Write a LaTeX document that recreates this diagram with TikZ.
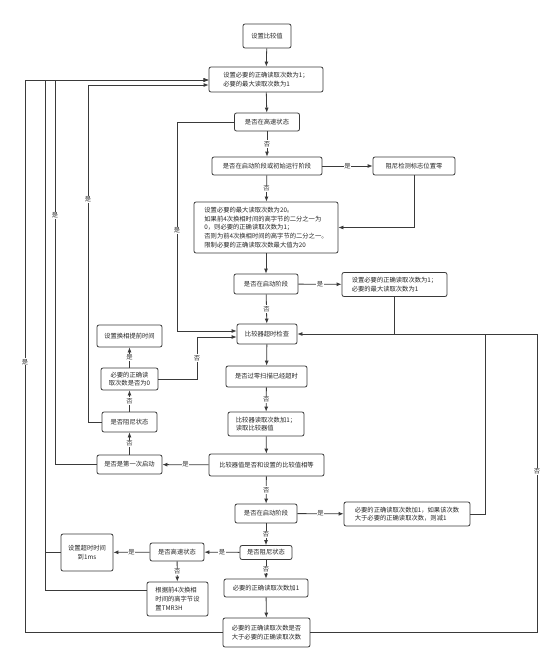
\documentclass[tikz,border=0pt]{standalone}
\usepackage{fontspec}
\newfontfamily\cjk{Noto Sans CJK SC}
\usetikzlibrary{arrows.meta}
\definecolor{ln}{HTML}{3A3A3A}
\tikzset{
  box/.style={draw=ln, line width=0.8pt, rounded corners=2pt, fill=white, align=center,
    inner sep=1pt, font=\cjk\fontsize{6.3}{8.6}\selectfont, text=black!85},
  lbl/.style={fill=white, inner sep=0.8pt, font=\cjk\fontsize{6.3}{7}\selectfont, text=black!80},
  arr/.style={draw=ln, line width=0.8pt, -{Latex[length=5pt,width=4pt]}},
  con/.style={draw=ln, line width=0.8pt}
}
\begin{document}
\begin{tikzpicture}[x=1pt,y=-1pt]
\useasboundingbox (0,0) rectangle (553,664);
% main spine
\node[box, minimum width=48pt, minimum height=24pt] (b1) at (267,36) {设置比较值};
\node[box, minimum width=114pt, minimum height=25pt, align=left] (b2) at (266,79.5) {设置必要的正确读取次数为1；\\必要的最大读取次数为1};
\node[box, minimum width=65pt, minimum height=18pt] (b3) at (267,122) {是否在高速状态};
\node[box, minimum width=110pt, minimum height=18pt] (b4) at (267,166) {是否在启动阶段或初始运行阶段};
\node[box, minimum width=82pt, minimum height=18pt] (b5) at (414,166) {阻尼检测标志位置零};
\node[box, minimum width=144pt, minimum height=51pt, align=left] (b6) at (266,227.5) {设置必要的最大读取次数为20。\\如果前4次换相时间的高字节的二分之一为\\0，则必要的正确读取次数为1；\\否则为前4次换相时间的高字节的二分之一。\\限制必要的正确读取次数最大值为20};
\node[box, minimum width=64pt, minimum height=20pt] (b7) at (266,284) {是否在启动阶段};
\node[box, minimum width=105pt, minimum height=24pt, align=left] (b8) at (394.5,284.5) {设置必要的正确读取次数为1；\\必要的最大读取次数为1};
\node[box, minimum width=60pt, minimum height=20pt] (b9) at (267,334) {比较器超时检查};
\node[box, minimum width=81pt, minimum height=21pt] (b10) at (266.5,376.5) {是否过零扫描已经超时};
\node[box, minimum width=76pt, minimum height=24pt, align=left] (b11) at (266,424) {比较器读取次数加1；\\读取比较器值};
\node[box, minimum width=115pt, minimum height=22pt] (b12) at (266.5,465) {比较器值是否和设置的比较值相等};
% left column
\node[box, minimum width=65pt, minimum height=19pt] (b13) at (129.5,464.5) {是否是第一次启动};
\node[box, minimum width=55pt, minimum height=20pt] (b14) at (129.5,422) {是否阻尼状态};
\node[box, minimum width=57pt, minimum height=22pt] (b15) at (129.5,379) {必要的正确读\\取次数是否为0};
\node[box, minimum width=65pt, minimum height=22pt] (b16) at (129.5,336) {设置换相提前时间};
% lower part
\node[box, minimum width=62pt, minimum height=19pt] (b17) at (266,513.5) {是否在启动阶段};
\node[box, minimum width=126pt, minimum height=24pt, align=left] (b18) at (407,514) {必要的正确读取次数加1，如果该次数\\大于必要的正确读取次数，则减1};
\node[box, minimum width=52pt, minimum height=14pt] (b19) at (266,552.5) {是否阻尼状态};
\node[box, minimum width=84pt, minimum height=18pt] (b20) at (266,588) {必要的正确读取次数加1};
\node[box, minimum width=87pt, minimum height=29pt, align=left] (b21) at (266.5,632.5) {必要的正确读取次数是否\\大于必要的正确读取次数};
\node[box, minimum width=54pt, minimum height=18pt] (b22) at (177,552) {是否高速状态};
\node[box, minimum width=52pt, minimum height=37pt] (b23) at (87,552.5) {设置超时时间\\到1ms};
\node[box, minimum width=61pt, minimum height=34pt, align=left] (b24) at (177.5,599) {根据前4次换相\\时间的高字节设\\置TMR3H};
% junction coordinates
\coordinate (c25) at (25,80);
\coordinate (c45) at (45,80);
\coordinate (c55) at (55,80);
\coordinate (c88) at (88,85);
\coordinate (lj1) at (177,331);
\coordinate (lj2) at (197,337);
\coordinate (rj) at (537,334);
\coordinate (j18) at (485,334);
% spine arrows
\draw[arr] (b1) -- (b2);
\draw[arr] (b2) -- (b3);
\draw[arr] (b3) -- node[lbl]{否} (b4);
\draw[arr] (b4) -- node[lbl]{是} (b5);
\draw[arr] (b4) -- node[lbl]{否} (b6);
\draw[arr] (b5.south) |- (b6.east);
\draw[arr] (b6) -- (b7);
\draw[arr] (b7) -- node[lbl]{是} (b8);
\draw[arr] (b7) -- node[lbl]{否} (b9);
\draw[arr] (b9) -- (b10);
\draw[arr] (b10) -- node[lbl]{否} (b11);
\draw[arr] (b11) -- (b12);
\draw[arr] (b12) -- node[lbl]{否} (b17);
\draw[arr] (b17) -- node[lbl]{是} (b18);
\draw[arr] (b17) -- node[lbl]{否} (b19);
\draw[arr] (b19) -- node[lbl]{否} (b20);
\draw[arr] (b20) -- (b21);
% left column arrows
\draw[arr] (b12) -- node[lbl]{是} (b13);
\draw[arr] (b13) -- node[lbl]{否} (b14);
\draw[arr] (b14) -- node[lbl]{否} (b15);
\draw[arr] (b15) -- node[lbl]{是} (b16);
\draw[arr] (b19) -- node[lbl]{是} (b22);
\draw[arr] (b22) -- node[lbl]{是} (b23);
\draw[arr] (b22) -- node[lbl]{否} (b24);
% loops into comparator timeout check
\draw[arr] (b3.west) -| node[lbl,pos=0.76]{是} (lj1) -- (b9.west |- lj1);
\draw[arr] (b15.east) -| node[lbl,pos=0.75]{否} (lj2) -- (b9.west |- lj2);
\draw[con] (b8.south) -- (b8.south |- rj);
\draw[con] (b18.east) -| (j18);
\draw[arr] (b21.east) -| node[lbl,pos=0.77]{否} (rj) -- (b9.east);
% loops back to top
\draw[arr] (b21.west) -| node[lbl,pos=0.745]{是} (c25) -- (b2.west |- c25);
\draw[arr] (b13.west) -| node[lbl,pos=0.824]{是} (c55) -- (b2.west |- c55);
\draw[arr] (b14.west) -| node[lbl,pos=0.83]{是} (c88) -- (b2.west |- c88);
\draw[arr] (b23.west) -| (c45) -- (b2.west |- c45);
\draw[con] ([yshift=9pt]b24.west) -| (45,552);
\end{tikzpicture}
\end{document}
